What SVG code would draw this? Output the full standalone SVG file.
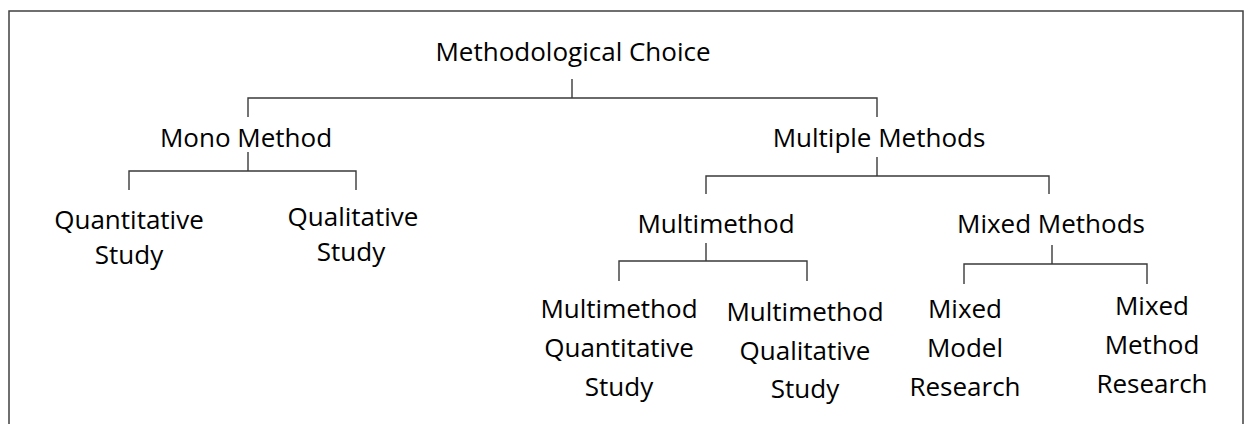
<svg xmlns="http://www.w3.org/2000/svg" width="1245" height="424" viewBox="0 0 1245 424">
<style>
text{font-family:"Open Sans","Noto Sans","Liberation Sans",sans-serif;font-size:26px;fill:#000;text-anchor:middle}
.c{fill:none;stroke:#3a3a3a;stroke-width:1.4}
.frame{fill:none;stroke:#404040;stroke-width:1.5}
</style>
<rect width="1245" height="424" fill="#fff"/>
<path class="frame" d="M9 430 V11 H1243 V430"/>
<g id="connectors">
<path class="c" d="M572 79 V98 M248 117 V98 H877 V117"/>
<path class="c" d="M248 152 V171 M129 190 V171 H356 V190"/>
<path class="c" d="M877 157 V176 M706 194 V176 H1049 V194"/>
<path class="c" d="M706 243 V261 M619 281 V261 H807 V281"/>
<path class="c" d="M1052 245 V264 M964 284 V264 H1147 V284"/>
</g>
<g id="n-root"><text x="573" y="61">Methodological Choice</text></g>
<g id="n-mono"><text x="246" y="147">Mono Method</text></g>
<g id="n-multiple"><text x="879" y="147">Multiple Methods</text></g>
<g id="n-quant"><text x="129" y="229">Quantitative</text><text x="129" y="264">Study</text></g>
<g id="n-qual"><text x="353" y="226">Qualitative</text><text x="351" y="261">Study</text></g>
<g id="n-multimethod"><text x="716" y="233">Multimethod</text></g>
<g id="n-mixed"><text x="1051" y="233">Mixed Methods</text></g>
<g id="n-mmquant"><text x="619" y="318">Multimethod</text><text x="619" y="357">Quantitative</text><text x="619" y="396">Study</text></g>
<g id="n-mmqual"><text x="805" y="321">Multimethod</text><text x="805" y="360">Qualitative</text><text x="805" y="398">Study</text></g>
<g id="n-mixedmodel"><text x="965" y="318">Mixed</text><text x="965" y="357">Model</text><text x="965" y="396">Research</text></g>
<g id="n-mixedmethod"><text x="1152" y="315">Mixed</text><text x="1152" y="354">Method</text><text x="1152" y="393">Research</text></g>
</svg>
